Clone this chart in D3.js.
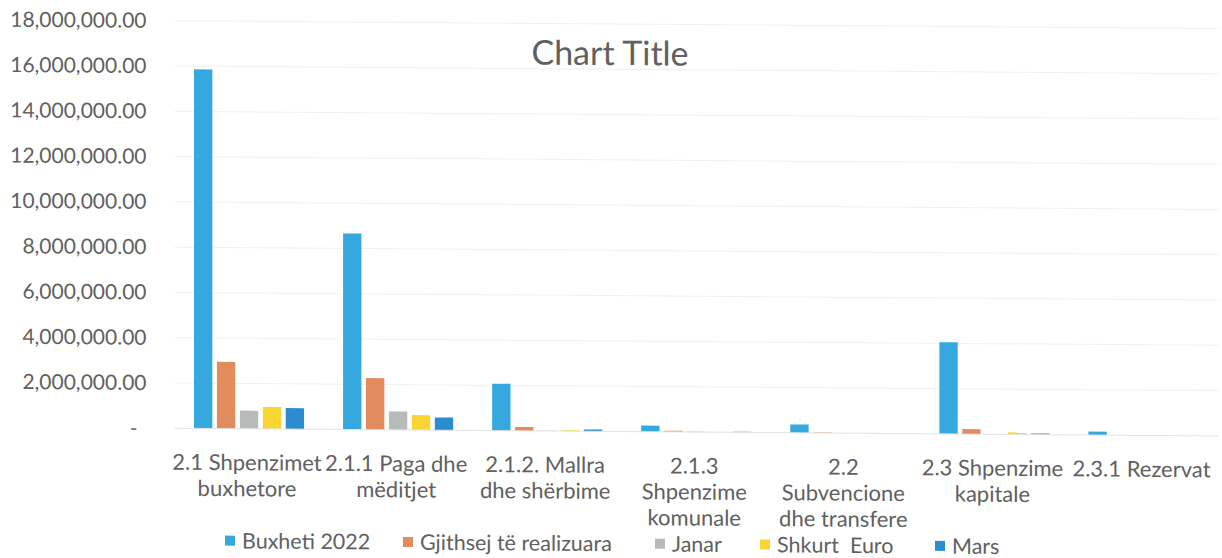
<!DOCTYPE html>
<html><head><meta charset="utf-8">
<script src="https://cdn.jsdelivr.net/npm/d3@7"></script>
<style>
body{margin:0;background:#fff}
svg text{font-family:Lato,"Open Sans",sans-serif;fill:#606060}
</style>
</head><body>
<svg id="chart" width="1222" height="558"></svg>
<script>
// ---- data ----
const categories = ["2.1 Shpenzimet\nbuxhetore", "2.1.1 Paga dhe\nmëditjet", "2.1.2. Mallra\ndhe shërbime",
  "2.1.3\nShpenzime\nkomunale", "2.2\nSubvencione\ndhe transfere", "2.3 Shpenzime\nkapitale", "2.3.1 Rezervat"];
const seriesNames = ["Buxheti 2022", "Gjithsej të realizuara", "Janar", "Shkurt  Euro", "Mars"];
const buxheti2022 = [15860000, 8660000, 2070000, 270000, 370000, 4050000, 150000];
const gjithsej    = [2950000, 2280000, 170000, 50000, 20000, 220000, 0];
const janar       = [800000, 810000, 10000, 20000, 0, 0, 0];
const shkurt      = [970000, 660000, 40000, 0, 0, 90000, 0];
const mars        = [930000, 560000, 80000, 30000, 0, 50000, 0];
const yTicks = [0, 2e6, 4e6, 6e6, 8e6, 10e6, 12e6, 14e6, 16e6, 18e6];
const chartTitle = "Chart Title";

// ---- styles / layout ----
const colors = ["#35a9df", "#e28b5d", "#b7babb", "#f8d532", "#2b8cd0"];
const seriesValues = [buxheti2022, gjithsej, janar, shkurt, mars];
const svg = d3.select("#chart");
// the reference scan is slightly skewed; reproduce that tilt
const root = svg.append("g").attr("transform", "translate(0,-1.03) skewY(0.42)");

const plotL = 174.5, plotR = 1218;
const x0 = d3.scaleBand().domain(d3.range(categories.length)).range([plotL, plotR]);
const x1 = d3.scaleBand().domain(seriesNames).range([19.5, x0.bandwidth() - 19.5]).paddingInner(0.2);
const y = d3.scaleLinear().domain([0, 18e6]).range([428, 20.5]);

// gridlines
root.append("g").selectAll("line").data(yTicks.filter(d => d > 0)).join("line")
  .attr("x1", plotL).attr("x2", plotR).attr("y1", d => y(d)).attr("y2", d => y(d))
  .attr("stroke", "#f1f1f1").attr("stroke-width", 1);

// y axis
const fmt = d3.format(",.2f");
const yAxis = root.append("g").attr("transform", `translate(${plotL},0)`)
  .call(d3.axisLeft(y).tickValues(yTicks).tickSize(0).tickPadding(28)
    .tickFormat(d => d === 0 ? "-" : fmt(d)));
yAxis.select(".domain").remove();
yAxis.selectAll("text").attr("font-size", 21).attr("font-family", null).attr("fill", null)
  .attr("dx", d => d === 0 ? -9 : 0);

// bars
const groups = root.append("g").selectAll("g").data(categories.map((c, i) => i)).join("g")
  .attr("transform", i => `translate(${x0(i)},0)`);
groups.selectAll("rect")
  .data(i => seriesNames.map((s, k) => ({ s, k, v: seriesValues[k][i] })))
  .join("rect")
  .attr("x", d => x1(d.s)).attr("width", x1.bandwidth())
  .attr("y", d => y(d.v)).attr("height", d => y(0) - y(d.v))
  .attr("fill", d => colors[d.k]);

// baseline
root.append("line").attr("x1", plotL).attr("x2", plotR).attr("y1", y(0)).attr("y2", y(0))
  .attr("stroke", "#e2e2e2").attr("stroke-width", 1);

// category labels
const xl = root.append("g").selectAll("text").data(categories).join("text")
  .attr("text-anchor", "middle").attr("font-size", 22)
  .attr("transform", (c, i) => `translate(${x0(i) + x0.bandwidth() / 2 - 2},469.5)`);
xl.selectAll("tspan").data(c => c.split("\n")).join("tspan")
  .attr("x", 0).attr("y", (t, j) => j * 26).text(t => t);

// title
root.append("text").attr("x", 610).attr("y", 61.6).attr("text-anchor", "middle")
  .attr("font-size", 34).text(chartTitle);

// legend
const legendX = [225, 403, 655, 760, 935];
const leg = root.append("g").selectAll("g").data(seriesNames).join("g")
  .attr("transform", (s, k) => `translate(${legendX[k]},540)`);
leg.append("rect").attr("x", 0).attr("y", -5).attr("width", 10).attr("height", 10)
  .attr("fill", (s, k) => colors[k]);
leg.append("text").attr("x", 17).attr("y", 7.7).attr("font-size", 21.5)
  .style("white-space", "pre").text(s => s);
</script>
</body></html>
